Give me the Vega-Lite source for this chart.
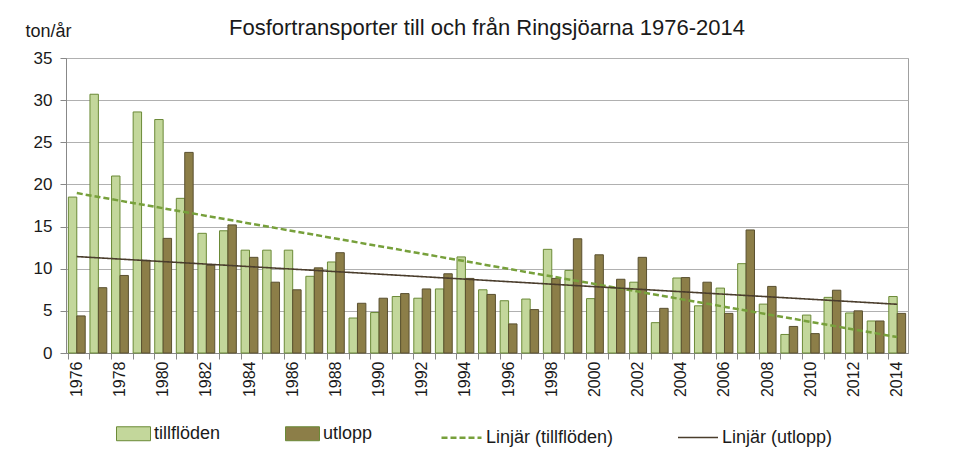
{
  "$schema": "https://vega.github.io/schema/vega-lite/v6.json",
  "width": 842,
  "height": 295,
  "autosize": {"type": "none"},
  "padding": {"left": 66, "top": 58, "right": 47, "bottom": 109},
  "background": "white",
  "config": {
    "font": "Liberation Sans",
    "view": {"stroke": "#a0a0a0", "strokeWidth": 1}
  },
  "title": {
    "text": "Fosfortransporter till och från Ringsjöarna 1976-2014",
    "fontSize": 22,
    "fontWeight": "normal",
    "color": "#1a1a1a",
    "anchor": "middle",
    "frame": "group",
    "baseline": "alphabetic",
    "offset": 0,
    "dy": 35
  },
  "data": {
    "values": [
      {"year": 1976, "serie": "tillflöden", "value": 18.5}, {"year": 1976, "serie": "utlopp", "value": 4.4},
      {"year": 1977, "serie": "tillflöden", "value": 30.7}, {"year": 1977, "serie": "utlopp", "value": 7.75},
      {"year": 1978, "serie": "tillflöden", "value": 21.0}, {"year": 1978, "serie": "utlopp", "value": 9.2},
      {"year": 1979, "serie": "tillflöden", "value": 28.6}, {"year": 1979, "serie": "utlopp", "value": 11.0},
      {"year": 1980, "serie": "tillflöden", "value": 27.7}, {"year": 1980, "serie": "utlopp", "value": 13.6},
      {"year": 1981, "serie": "tillflöden", "value": 18.35}, {"year": 1981, "serie": "utlopp", "value": 23.8},
      {"year": 1982, "serie": "tillflöden", "value": 14.2}, {"year": 1982, "serie": "utlopp", "value": 10.4},
      {"year": 1983, "serie": "tillflöden", "value": 14.5}, {"year": 1983, "serie": "utlopp", "value": 15.2},
      {"year": 1984, "serie": "tillflöden", "value": 12.2}, {"year": 1984, "serie": "utlopp", "value": 11.35},
      {"year": 1985, "serie": "tillflöden", "value": 12.2}, {"year": 1985, "serie": "utlopp", "value": 8.4},
      {"year": 1986, "serie": "tillflöden", "value": 12.2}, {"year": 1986, "serie": "utlopp", "value": 7.5},
      {"year": 1987, "serie": "tillflöden", "value": 9.1}, {"year": 1987, "serie": "utlopp", "value": 10.1},
      {"year": 1988, "serie": "tillflöden", "value": 10.8}, {"year": 1988, "serie": "utlopp", "value": 11.9},
      {"year": 1989, "serie": "tillflöden", "value": 4.15}, {"year": 1989, "serie": "utlopp", "value": 5.9},
      {"year": 1990, "serie": "tillflöden", "value": 4.8}, {"year": 1990, "serie": "utlopp", "value": 6.5},
      {"year": 1991, "serie": "tillflöden", "value": 6.7}, {"year": 1991, "serie": "utlopp", "value": 7.05},
      {"year": 1992, "serie": "tillflöden", "value": 6.5}, {"year": 1992, "serie": "utlopp", "value": 7.6},
      {"year": 1993, "serie": "tillflöden", "value": 7.6}, {"year": 1993, "serie": "utlopp", "value": 9.4},
      {"year": 1994, "serie": "tillflöden", "value": 11.4}, {"year": 1994, "serie": "utlopp", "value": 8.85},
      {"year": 1995, "serie": "tillflöden", "value": 7.5}, {"year": 1995, "serie": "utlopp", "value": 6.95},
      {"year": 1996, "serie": "tillflöden", "value": 6.2}, {"year": 1996, "serie": "utlopp", "value": 3.45},
      {"year": 1997, "serie": "tillflöden", "value": 6.4}, {"year": 1997, "serie": "utlopp", "value": 5.15},
      {"year": 1998, "serie": "tillflöden", "value": 12.3}, {"year": 1998, "serie": "utlopp", "value": 8.85},
      {"year": 1999, "serie": "tillflöden", "value": 9.8}, {"year": 1999, "serie": "utlopp", "value": 13.55},
      {"year": 2000, "serie": "tillflöden", "value": 6.45}, {"year": 2000, "serie": "utlopp", "value": 11.65},
      {"year": 2001, "serie": "tillflöden", "value": 7.8}, {"year": 2001, "serie": "utlopp", "value": 8.75},
      {"year": 2002, "serie": "tillflöden", "value": 8.4}, {"year": 2002, "serie": "utlopp", "value": 11.35},
      {"year": 2003, "serie": "tillflöden", "value": 3.6}, {"year": 2003, "serie": "utlopp", "value": 5.3},
      {"year": 2004, "serie": "tillflöden", "value": 8.9}, {"year": 2004, "serie": "utlopp", "value": 8.95},
      {"year": 2005, "serie": "tillflöden", "value": 5.6}, {"year": 2005, "serie": "utlopp", "value": 8.4},
      {"year": 2006, "serie": "tillflöden", "value": 7.7}, {"year": 2006, "serie": "utlopp", "value": 4.7},
      {"year": 2007, "serie": "tillflöden", "value": 10.6}, {"year": 2007, "serie": "utlopp", "value": 14.6},
      {"year": 2008, "serie": "tillflöden", "value": 5.8}, {"year": 2008, "serie": "utlopp", "value": 7.9},
      {"year": 2009, "serie": "tillflöden", "value": 2.2}, {"year": 2009, "serie": "utlopp", "value": 3.15},
      {"year": 2010, "serie": "tillflöden", "value": 4.5}, {"year": 2010, "serie": "utlopp", "value": 2.3},
      {"year": 2011, "serie": "tillflöden", "value": 6.6}, {"year": 2011, "serie": "utlopp", "value": 7.45},
      {"year": 2012, "serie": "tillflöden", "value": 4.75}, {"year": 2012, "serie": "utlopp", "value": 5.0},
      {"year": 2013, "serie": "tillflöden", "value": 3.8}, {"year": 2013, "serie": "utlopp", "value": 3.8},
      {"year": 2014, "serie": "tillflöden", "value": 6.7}, {"year": 2014, "serie": "utlopp", "value": 4.7}
    ]
  },
  "layer": [
    {
      "transform": [{"filter": "datum.serie === 'tillflöden'"}],
      "mark": {"type": "bar", "stroke": "#6b8a37", "strokeWidth": 1},
      "encoding": {
        "x": {
          "field": "year", "type": "ordinal",
          "scale": {"paddingInner": 0.22, "paddingOuter": 0.11},
          "axis": {"orient": "bottom", "bandPosition": 0, "labels": false, "grid": false, "tickSize": 6, "title": null, "domainColor": "#888888", "tickColor": "#888888"}
        },
        "xOffset": {"field": "serie", "type": "nominal", "scale": {"domain": ["tillflöden", "utlopp"]}},
        "y": {
          "field": "value", "type": "quantitative",
          "scale": {"domain": [0, 35], "nice": false},
          "axis": {
            "values": [0, 5, 10, 15, 20, 25, 30, 35],
            "title": "ton/år", "titleAngle": 0, "titleX": -41, "titleY": -22, "titleAlign": "left", "titleBaseline": "alphabetic",
            "titleFontSize": 18, "titleFontWeight": "normal", "titleColor": "#1a1a1a",
            "labelFontSize": 17, "labelPadding": 8, "labelColor": "#1a1a1a",
            "tickSize": 6, "tickColor": "#888888", "domainColor": "#888888", "gridColor": "#b0b0b0", "grid": true
          }
        },
        "fill": {
          "field": "serie", "type": "nominal",
          "scale": {"domain": ["tillflöden", "utlopp"], "range": ["#c3d79b", "#8c7e48"]},
          "legend": {
            "title": null, "orient": "none", "legendX": 50, "legendY": 358, "direction": "horizontal",
            "symbolType": "M-1,-0.41H1V0.41H-1Z", "symbolSize": 1156, "symbolStrokeWidth": 1,
            "labelFontSize": 18, "labelColor": "#1a1a1a", "labelOffset": 3, "gridAlign": "all", "columnPadding": 62,
            "encode": {"symbols": {"update": {"stroke": {"signal": "datum.value === 'utlopp' ? '#5a5030' : '#6b8a37'"}, "strokeWidth": {"value": 1}}}}
          }
        }
      }
    },
    {
      "transform": [{"filter": "datum.serie === 'utlopp'"}],
      "mark": {"type": "bar", "stroke": "#5a5030", "strokeWidth": 1},
      "encoding": {
        "x": {
          "field": "year", "type": "ordinal",
          "axis": {"orient": "bottom", "ticks": false, "domain": false, "grid": false, "title": null, "labelAngle": -90, "labelAlign": "right", "labelBaseline": "middle",
                   "labelExpr": "datum.value % 2 === 0 ? datum.label : ''", "labelOverlap": false, "labelFontSize": 16, "labelPadding": 8, "labelColor": "#1a1a1a"}
        },
        "xOffset": {"field": "serie", "type": "nominal"},
        "y": {"field": "value", "type": "quantitative"},
        "fill": {"field": "serie", "type": "nominal"}
      }
    },
    {
      "transform": [
        {"regression": "value", "on": "year", "groupby": ["serie"], "extent": [1976, 2014]},
        {"calculate": "'Linjär (' + datum.serie + ')'", "as": "trend"}
      ],
      "mark": {"type": "line"},
      "encoding": {
        "x": {"field": "year", "type": "ordinal", "axis": null},
        "y": {"field": "value", "type": "quantitative"},
        "stroke": {
          "field": "trend", "type": "nominal",
          "scale": {"domain": ["Linjär (tillflöden)", "Linjär (utlopp)"], "range": ["#77a03b", "#4a3d2c"]},
          "legend": {
            "title": null, "orient": "none", "legendX": 374, "legendY": 358, "direction": "horizontal",
            "symbolType": "stroke", "symbolSize": 1600, "symbolStrokeWidth": 2,
            "labelFontSize": 18, "labelColor": "#1a1a1a", "labelOffset": 3, "gridAlign": "all", "columnPadding": 60
          }
        },
        "strokeDash": {
          "field": "trend", "type": "nominal",
          "scale": {"domain": ["Linjär (tillflöden)", "Linjär (utlopp)"], "range": [[6, 3], [1, 0]]}
        },
        "strokeWidth": {
          "field": "trend", "type": "nominal",
          "scale": {"domain": ["Linjär (tillflöden)", "Linjär (utlopp)"], "range": [2.5, 1.6]},
          "legend": null
        }
      }
    }
  ],
  "resolve": {"axis": {"x": "independent"}}
}
